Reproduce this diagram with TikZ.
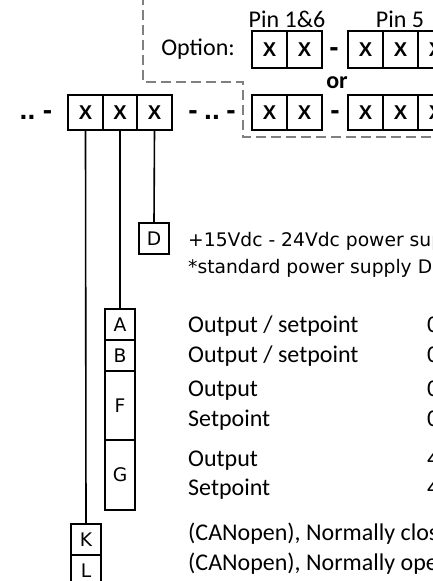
\documentclass[tikz,border=0pt]{standalone}
\usepackage{fontspec}
\setmainfont{Carlito}
\newfontfamily\dvs{DejaVu Sans}
\newfontfamily\lsans{Liberation Sans}
\begin{document}
\begin{tikzpicture}[x=1pt,y=-1pt,
  fnt/.style={font=\fontsize{24}{26}\selectfont},
  dfnt/.style={font=\dvs\fontsize{18.7}{22}\selectfont},
  cell/.style={draw,line width=1.6pt,minimum width=34.5pt,minimum height=35pt,inner sep=0pt,font=\lsans\fontsize{20}{24}\selectfont\bfseries},
  lbox/.style={draw,line width=1.4pt,minimum width=30pt,inner sep=0pt,dfnt},
  txt/.style={anchor=base west,inner sep=0pt,fnt},
  dtxt/.style={anchor=base west,inner sep=0pt,dfnt},
  sym/.style={anchor=base,inner sep=0pt,font=\lsans\fontsize{28}{30}\selectfont\bfseries},
  wire/.style={line width=1.6pt},
  optline/.style={draw=black!50,line width=1.2pt,dash pattern=on 10pt off 5pt}]
\useasboundingbox (0,0) rectangle (433,581);
\clip (0,0) rectangle (433,581);
% dashed option frame
\coordinate (o1) at (143,-5);
\coordinate (o2) at (143,82);
\coordinate (o3) at (243,82);
\coordinate (o4) at (243,137);
\coordinate (o5) at (445,137);
\draw[optline] (o1) -- (o2) -- (o3) -- (o4) -- (o5);
% main code cells
\node[cell] (c1) at (85.5,112.5) {X};
\node[cell] (c2) at (120,112.5) {X};
\node[cell] (c3) at (154.5,112.5) {X};
\node[sym] (dl) at (27.5,119) {..};
\node[sym] (hl) at (47.5,119) {-};
\node[sym] (h1) at (193,119) {-};
\node[sym] (dm) at (212,119) {..};
\node[sym] (h2) at (231,119) {-};
% option rows
\node[inner sep=0pt,fnt,anchor=base] (p16) at (287,27) {Pin 1\&6};
\node[inner sep=0pt,fnt,anchor=base] (p5) at (400,27) {Pin 5};
\node[inner sep=0pt,fnt,anchor=base east] (opt) at (235,55) {Option:};
\node[cell,minimum height=36.5pt] (t1) at (269.5,49.5) {X};
\node[cell,minimum height=36.5pt] (t2) at (304.5,49.5) {X};
\node[sym] (th) at (334,56) {-};
\node[cell,minimum height=36.5pt] (t3) at (365.5,49.5) {X};
\node[cell,minimum height=36.5pt] (t4) at (400.5,49.5) {X};
\node[cell,minimum height=36.5pt] (t5) at (435.5,49.5) {X};
\node[inner sep=0pt,anchor=base,font=\fontsize{24}{26}\selectfont\bfseries] (or) at (337,88) {or};
\node[cell] (b1) at (269.5,112.5) {X};
\node[cell] (b2) at (304.5,112.5) {X};
\node[sym] (bh) at (335,119) {-};
\node[cell] (b3) at (365.5,112.5) {X};
\node[cell] (b4) at (400.5,112.5) {X};
\node[cell] (b5) at (435.5,112.5) {X};
% letter boxes
\node[lbox,minimum height=31pt] (D) at (154,238.5) {D};
\node[lbox,minimum height=31pt] (A) at (120,324.5) {A};
\node[lbox,minimum height=31pt] (B) at (120,355.5) {B};
\node[lbox,minimum height=69pt] (F) at (120,405.5) {F};
\node[lbox,minimum height=70pt] (G) at (120,475) {G};
\node[lbox,minimum height=31pt] (K) at (86,539.5) {K};
\node[lbox,minimum height=31pt] (L) at (86,570.5) {L};
% wires
\draw[wire] (c1.south) -- (K.north);
\draw[wire] (c2.south) -- (A.north);
\draw[wire] (c3.south) -- (D.north);
% descriptions
\node[dtxt] (tD1) at (188,246) {+15Vdc - 24Vdc power supply};
\node[dtxt] (tD2) at (188,273) {*standard power supply De};
\node[txt] (tA) at (188,332) {Output / setpoint};
\node[txt] (tB) at (188,362) {Output / setpoint};
\node[txt] (tF1) at (188,396) {Output};
\node[txt] (tF2) at (188,426.5) {Setpoint};
\node[txt] (tG1) at (188,466) {Output};
\node[txt] (tG2) at (188,495.5) {Setpoint};
\node[txt] (tK) at (188,540) {(CANopen), Normally closed};
\node[txt] (tL) at (188,570) {(CANopen), Normally open};
\node[txt] (vA) at (427,332) {0};
\node[txt] (vB) at (427,362) {0};
\node[txt] (vF1) at (427,396) {0};
\node[txt] (vF2) at (427,426.5) {0};
\node[txt] (vG1) at (427,466) {4};
\node[txt] (vG2) at (427,495.5) {4};
\end{tikzpicture}
\end{document}
